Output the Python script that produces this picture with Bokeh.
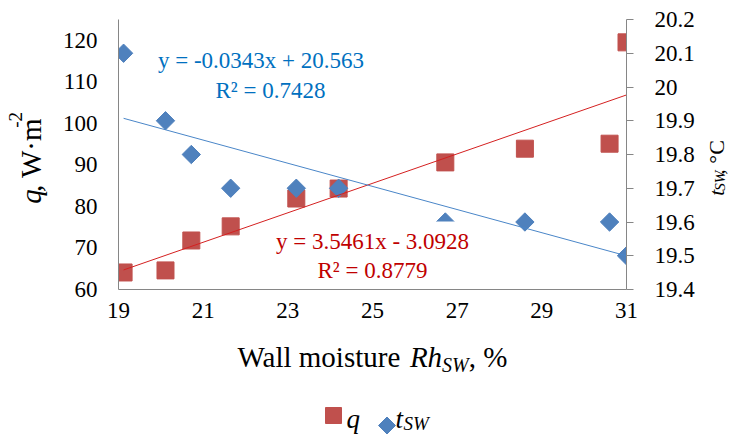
from math import pi
from bokeh.plotting import figure
from bokeh.layouts import row, column
from bokeh.models import Range1d, LinearAxis, FixedTicker, Label, BoxAnnotation
from bokeh.embed import file_html
from bokeh.resources import INLINE

# ---------------- data ----------------
moisture = [19.12, 20.11, 20.72, 21.65, 23.2, 24.2, 26.72, 28.6, 30.6, 31.0]
q_values = [64.1, 64.6, 71.8, 75.2, 81.9, 84.3, 90.6, 93.9, 95.1, 119.5]
t_values = [20.1, 19.9, 19.8, 19.7, 19.7, 19.7, 19.6, 19.6, 19.6, 19.5]
q_fit = [3.5461, -3.0928]     # slope, intercept (shown equation)
t_fit = [-0.0343, 20.563]
x_ticks = [19, 21, 23, 25, 27, 29, 31]
q_ticks = [60, 70, 80, 90, 100, 110, 120]
t_ticks = [19.4, 19.5, 19.6, 19.7, 19.8, 19.9, 20.0, 20.1, 20.2]
t_tick_labels = ["19.4", "19.5", "19.6", "19.7", "19.8", "19.9", "20", "20.1", "20.2"]

# ---------------- layout (page pixels) ----------------
PW, PH = 735, 434
LW = 50            # left title strip
MR = 700           # right edge of main figure
MH = 334           # height of main figure
FL, FR, FT, FB = 118, 626, 19, 289   # frame edges
XMIN, XMAX, QMIN, QMAX, TMIN, TMAX = 19, 31, 60, 125, 19.4, 20.2
BSHIFT = 0.3       # baseline correction (fraction of font size)
MID = 0.3375       # baseline below box centre (fraction of font size)
VSHIFT = 21        # empirical along-text correction for rotated labels

def dx(px):
    return XMIN + (px - FL) / (FR - FL) * (XMAX - XMIN)

def dy(py):
    return QMIN + (FB - py) / (FB - FT) * (QMAX - QMIN)

FONT = "Liberation Serif"
AX = "#868686"

p = figure(width=MR - LW, height=MH, output_backend="svg", toolbar_location=None,
           x_range=Range1d(XMIN, XMAX), y_range=Range1d(QMIN, QMAX),
           min_border_left=FL - LW, min_border_right=MR - FR,
           min_border_top=FT, min_border_bottom=MH - FB)
p.outline_line_color = None
p.grid.visible = False
p.extra_y_ranges = {"t": Range1d(TMIN, TMAX)}

p.xaxis.ticker = FixedTicker(ticks=x_ticks)
p.yaxis.ticker = FixedTicker(ticks=q_ticks)
for ax in (p.xaxis[0], p.yaxis[0]):
    ax.axis_line_color = AX
    ax.major_tick_line_color = None
    ax.minor_tick_line_color = None
    ax.major_tick_in = 0
    ax.major_tick_out = 0
    ax.major_label_text_font = FONT
    ax.major_label_text_font_size = "23px"
    ax.major_label_text_color = "black"
p.yaxis.major_label_standoff = 21
p.xaxis.major_label_standoff = 13

rax = LinearAxis(y_range_name="t", ticker=FixedTicker(ticks=t_ticks),
                 major_label_overrides={v: s for v, s in zip(t_ticks, t_tick_labels)})
rax.axis_line_color = AX
rax.major_tick_line_color = AX
rax.minor_tick_line_color = None
rax.major_tick_in = 0
rax.major_tick_out = 7
rax.major_label_standoff = 21
rax.major_label_text_font = FONT
rax.major_label_text_font_size = "23px"
rax.major_label_text_color = "black"
p.add_layout(rax, "right")

# ---------------- marks ----------------
p.scatter(moisture, q_values, marker="square", size=17, color="#C0504D")
p.scatter(moisture, t_values, y_range_name="t", marker="square", angle=pi / 4,
          size=13, color="#4F81BD")

xe = [min(moisture), max(moisture)]
p.line(xe, [q_fit[0] * x + q_fit[1] for x in xe], line_color="#D42020", line_width=1)
p.line(xe, [t_fit[0] * x + t_fit[1] for x in xe], y_range_name="t",
       line_color="#4A86C8", line_width=1)

# white background of the red equation box
p.add_layout(BoxAnnotation(left=dx(300), right=dx(470), top=dy(221), bottom=dy(279),
                           fill_color="white", fill_alpha=1, line_color=None))

def lab(fig, px, py, text, size, color="black", style="normal", align="left", main=False):
    """Horizontal text; px, py: page position on the baseline."""
    f = float(size.replace("px", ""))
    py -= BSHIFT * f
    x, y = (dx(px), dy(py)) if main else (px, py)
    fig.add_layout(Label(x=x, y=y, text=text, text_font=FONT,
                         text_font_size=size, text_color=color, text_font_style=style,
                         text_align=align, text_baseline="alphabetic"))

def vlab(fig, base_x, start_y, text, size, style="normal"):
    """Text rotated 90deg CCW: baseline at page x=base_x, starting at start_y going up."""
    f = float(size.replace("px", ""))
    fig.add_layout(Label(x=base_x - MID * f - 2, y=start_y + VSHIFT, text=text,
                         text_font=FONT, text_font_size=size, text_color="black",
                         text_font_style=style, text_align="left",
                         text_baseline="middle", angle=pi / 2))

# equations (inside main frame)
lab(p, 260.5, 67, "y = -0.0343x + 20.563", "23px", "#0070C0", align="center", main=True)
lab(p, 270, 97, "R² = 0.7428", "23px", "#0070C0", align="center", main=True)
lab(p, 372, 248, "y = 3.5461x - 3.0928", "23px", "#C00000", align="center", main=True)
lab(p, 372, 277, "R² = 0.8779", "23px", "#C00000", align="center", main=True)

# ---------------- helper strips: data units == page pixels ----------------
def strip(x0, y0, w, h):
    f = figure(width=w, height=h, output_backend="svg", toolbar_location=None,
               x_range=Range1d(x0, x0 + w), y_range=Range1d(y0 + h, y0),
               x_axis_type=None, y_axis_type=None, min_border=0)
    f.min_border_left = f.min_border_right = f.min_border_top = f.min_border_bottom = 0
    f.outline_line_color = None
    f.grid.visible = False
    return f

left = strip(0, 0, LW, MH)
vlab(left, 42, 207, "q", "29px", style="italic")
vlab(left, 42, 192.5, ", W·m", "29px")
vlab(left, 23, 113, "-2", "19px")

right = strip(MR, 0, PW - MR, MH)
vlab(right, 725, 197, "t", "22px", style="italic")
vlab(right, 727, 190.9, "SW", "15px", style="italic")
vlab(right, 725, 170.9, ", °C", "22px")

bottom = strip(0, MH, PW, PH - MH)
lab(bottom, 237, 365, "Wall moisture", "29px")
lab(bottom, 409.4, 365, "Rh", "29px", style="italic")
lab(bottom, 441.6, 370, "SW", "20px", style="italic")
lab(bottom, 468.3, 365, ", %", "29px")

# legend
bottom.scatter([333], [415], marker="square", size=16, color="#C0504D")
bottom.scatter([386.5], [425], marker="square", angle=pi / 4, size=12, color="#4F81BD")
lab(bottom, 346, 427, "q", "27px", style="italic")
lab(bottom, 395, 427, "t", "27px", style="italic")
lab(bottom, 403, 429, "SW", "19px", style="italic")

layout = column(row(left, p, right, spacing=0), bottom, spacing=0)
open("out.html", "w").write(file_html(layout, INLINE))
